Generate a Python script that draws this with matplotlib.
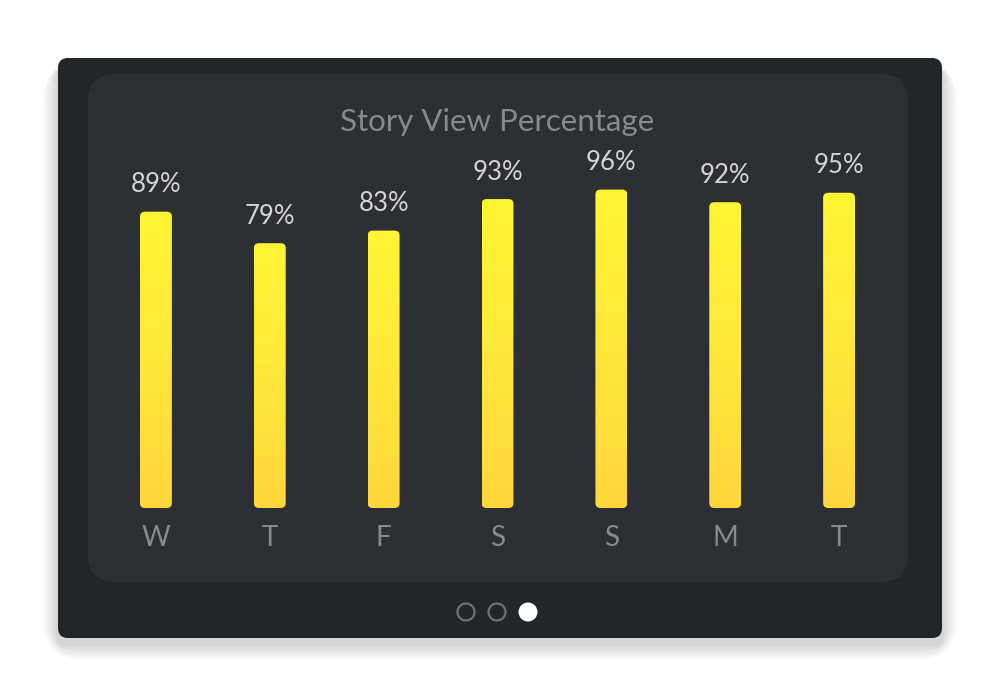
import matplotlib
matplotlib.use("Agg")
import matplotlib.pyplot as plt
import numpy as np
from matplotlib.patches import FancyBboxPatch, Circle
from matplotlib.colors import LinearSegmentedColormap

days = ["W", "T", "F", "S", "S", "M", "T"]
values = [89, 79, 83, 93, 96, 92, 95]
title = "Story View Percentage"

W, H = 1000, 696
fig = plt.figure(figsize=(W / 100, H / 100), dpi=100)
fig.patch.set_facecolor("white")

FONT = ["Lato", "DejaVu Sans"]

# decoration axes in pixel coordinates
bg = fig.add_axes([0, 0, 1, 1])
bg.set_xlim(0, W)
bg.set_ylim(H, 0)
bg.axis("off")

# soft shadow
for i in range(14):
    g = 2 + i * 2.2
    bg.add_patch(FancyBboxPatch((58 - g * 0.5, 58 - g * 0.1 + 7), 884 + 1.0 * g, 580 + 0.6 * g,
                                boxstyle="round,pad=0,rounding_size=%f" % (10 + g),
                                facecolor="black", edgecolor="none", alpha=0.010))
# outer card
bg.add_patch(FancyBboxPatch((58, 58), 884, 580, boxstyle="round,pad=0,rounding_size=10",
                            facecolor="#232629", edgecolor="none"))
# inner panel
bg.add_patch(FancyBboxPatch((88, 74), 820, 508, boxstyle="round,pad=0,rounding_size=28",
                            facecolor="#2c2f33", edgecolor="none"))

bg.text(497, 122, title, ha="center", va="center", color="#878a8d",
        fontsize=22.5, family=FONT)

# page dots
for cx, filled in [(466, False), (497, False), (528, True)]:
    if filled:
        bg.add_patch(Circle((cx, 612), 9.5, facecolor="white", edgecolor="none"))
    else:
        bg.add_patch(Circle((cx, 612), 8.5, facecolor="none", edgecolor="#6f7275", linewidth=1.6))

# bar axes
ymin, ymax = -5, 100
x0_px, x1_px = 99, 896
ybot_px, ytop_px = 508, 177
ax = fig.add_axes([x0_px / W, (H - ybot_px) / H, (x1_px - x0_px) / W, (ybot_px - ytop_px) / H])
ax.set_xlim(-0.5, len(days) - 0.5)
ax.set_ylim(ymin, ymax)
ax.patch.set_alpha(0)
for s in ax.spines.values():
    s.set_visible(False)
ax.set_yticks([])
ax.set_xticks(range(len(days)))
ax.set_xticklabels(days)
ax.tick_params(axis="x", length=0, pad=12, labelsize=20, labelcolor="#888b8e")
for t in ax.get_xticklabels():
    t.set_family(FONT)

cmap = LinearSegmentedColormap.from_list("yg", ["#ffd63c", "#ffe83a", "#fff534"])
bw = 0.28
xu = (len(days)) / (x1_px - x0_px)
yu = (ymax - ymin) / (ybot_px - ytop_px)
grad = np.linspace(0, 1, 256).reshape(-1, 1)
for i, v in enumerate(values):
    p = FancyBboxPatch((i - bw / 2, ymin), bw, v - ymin,
                       boxstyle="round,pad=0,rounding_size=%f" % (5 * xu),
                       mutation_aspect=yu / xu, facecolor="none", edgecolor="none")
    ax.add_patch(p)
    im = ax.imshow(grad, extent=(i - bw / 2, i + bw / 2, ymin, v), origin="lower",
                   cmap=cmap, aspect="auto", zorder=2)
    im.set_clip_path(p)
    ax.text(i, v + 27 * yu, "%d%%" % v, ha="center", va="center", color="#d4d4d4",
            fontsize=18.5, family=FONT)
ax.set_xlim(-0.5, len(days) - 0.5)
ax.set_ylim(ymin, ymax)

fig.savefig("out.png", dpi=100, facecolor="white")
